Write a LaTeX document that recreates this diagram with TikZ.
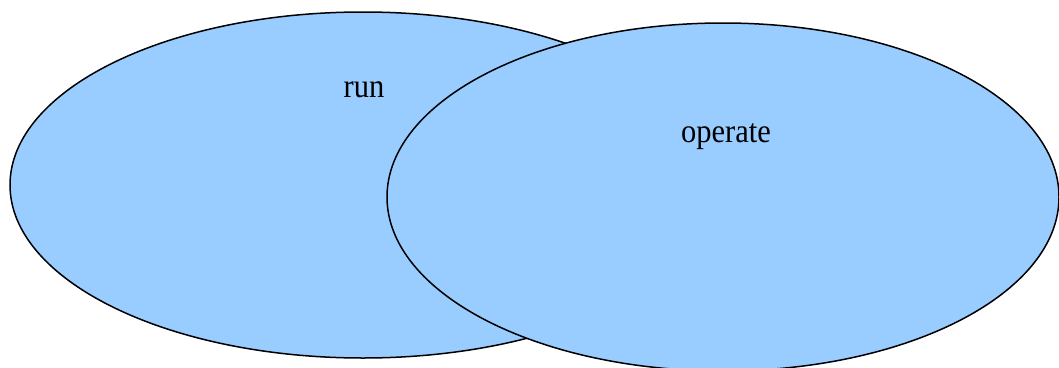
\documentclass[tikz,border=0pt]{standalone}
\usepackage{fontspec}
\setmainfont{Liberation Serif}
\definecolor{venn}{HTML}{99CCFF}
\begin{document}
\begin{tikzpicture}[x=1pt,y=-1pt,
  setshape/.style={fill=venn,draw=black,line width=1.5pt},
  setlabel/.style={font=\fontsize{30.5}{34}\selectfont,inner sep=0pt,anchor=base}]
\useasboundingbox (0,0) rectangle (1059,367);
\draw[setshape] (363,185) ellipse [x radius=353,y radius=173];
\draw[setshape] (723,197) ellipse [x radius=336,y radius=174];
\node[setlabel] (run) at (364,97) {\scalebox{1}[1.1]{run}};
\node[setlabel] (operate) at (726,142) {\scalebox{1}[1.1]{operate}};
\end{tikzpicture}
\end{document}
